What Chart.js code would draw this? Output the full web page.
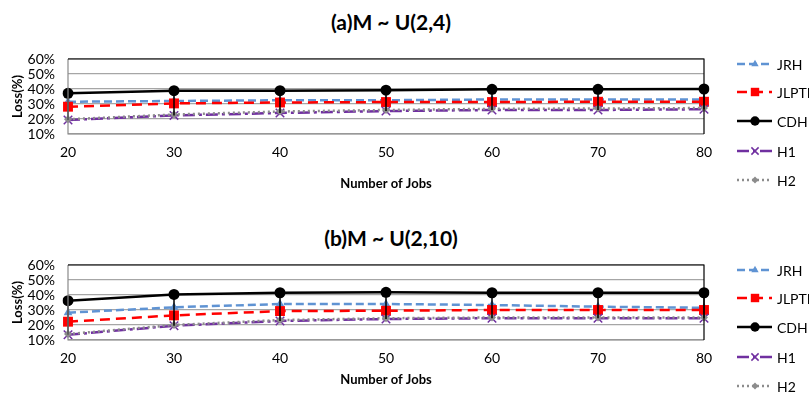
<!DOCTYPE html>
<html>
<head>
<meta charset="utf-8">
<script src="https://cdn.jsdelivr.net/npm/chart.js@4/dist/chart.umd.min.js"></script>
<style>
  body { margin: 0; background: #fff; }
  #wrap { position: relative; width: 809px; height: 394px; overflow: hidden; }
  .title { position: absolute; left: 0; width: 782px; text-align: center; font: bold 21px Lato, sans-serif; color: #000; line-height: 26px; }
  canvas { position: absolute; left: 0; }
</style>
</head>
<body>
<div id="wrap">
  <div class="title" style="top:9px">(a)M ~ U(2,4)</div>
  <canvas id="chartA" width="809" height="200" style="top:0"></canvas>
  <div class="title" style="top:225px">(b)M ~ U(2,10)</div>
  <canvas id="chartB" width="809" height="188" style="top:206px"></canvas>
</div>
<script>
const jobs = ["20", "30", "40", "50", "60", "70", "80"];
const yTicks = [10, 20, 30, 40, 50, 60];
const seriesNames = ["JRH", "JLPTH", "CDH", "H1", "H2"];

// (a) M ~ U(2,4)
const jrhA   = [31.5, 32, 32.5, 32.5, 33, 33, 33];
const jlpthA = [28.2, 30.4, 31, 31.3, 31.3, 31.5, 31.5];
const cdhA   = [37.1, 38.9, 38.9, 39.2, 39.8, 39.8, 40];
const h1A    = [19.3, 22.4, 24, 25.3, 26, 26, 26.5];
const h2A    = [19.8, 23, 25, 26, 26.8, 27, 27.3];

// (b) M ~ U(2,10)
const jrhB   = [28.2, 31.8, 34, 34, 33.3, 32.2, 31.5];
const jlpthB = [22.2, 26.4, 29.3, 29.5, 30, 30, 30];
const cdhB   = [36.2, 40.4, 41.5, 41.8, 41.5, 41.5, 41.5];
const h1B    = [13.5, 19.5, 22.7, 24, 24.5, 24.5, 24.5];
const h2B    = [14, 20, 23.3, 24.5, 25, 25, 25];

const FONT = "Lato, sans-serif";

function makeDatasets(jrh, jlpth, cdh, h1, h2) {
  return [
    { label: seriesNames[0], data: jrh, borderColor: "#5f93d3", backgroundColor: "#5f93d3",
      borderWidth: 2.5, borderDash: [8, 4], pointStyle: "triangle", pointRadius: 5, pointBorderWidth: 0, order: 5 },
    { label: seriesNames[1], data: jlpth, borderColor: "#ff0000", backgroundColor: "#ff0000",
      borderWidth: 2.5, borderDash: [10, 6], pointStyle: "rect", pointRadius: 7, pointBorderWidth: 0, order: 4 },
    { label: seriesNames[2], data: cdh, borderColor: "#000000", backgroundColor: "#000000",
      borderWidth: 2.5, pointStyle: "circle", pointRadius: 5.5, pointBorderWidth: 0, order: 3 },
    { label: seriesNames[3], data: h1, borderColor: "#7030a0", backgroundColor: "#7030a0",
      borderWidth: 2.5, borderDash: [12, 4, 3, 4], pointStyle: "crossRot", pointRadius: 6, pointBorderWidth: 1.5, order: 2 },
    { label: seriesNames[4], data: h2, borderColor: "#8c8c8c", backgroundColor: "#8c8c8c",
      borderWidth: 2.5, borderDash: [2, 3], pointStyle: "rectRot", pointRadius: 4, pointBorderWidth: 0, order: 1 }
  ];
}

// high-low lines, plot border and legend
const extras = {
  id: "extras",
  afterDatasetsDraw(chart) {
    const ctx = chart.ctx;
    const metas = chart.data.datasets.map((d, i) => chart.getDatasetMeta(i));
    ctx.save();
    ctx.strokeStyle = "#000";
    ctx.lineWidth = 1.5;
    jobs.forEach((j, k) => {
      const ys = metas.map(m => m.data[k].y);
      const x = metas[0].data[k].x;
      ctx.beginPath();
      ctx.moveTo(x, Math.min(...ys));
      ctx.lineTo(x, Math.max(...ys));
      ctx.stroke();
    });
    ctx.restore();
  },
  afterDraw(chart) {
    const ctx = chart.ctx;
    const a = chart.chartArea;
    ctx.save();
    ctx.lineWidth = 1.2;
    ctx.strokeStyle = "#8a8a8a";
    ctx.beginPath();
    ctx.moveTo(a.left, a.top); ctx.lineTo(a.left, a.bottom); ctx.lineTo(a.right, a.bottom);
    ctx.stroke();
    ctx.strokeStyle = "#000";
    ctx.beginPath();
    ctx.moveTo(a.left, a.top); ctx.lineTo(a.right, a.top); ctx.lineTo(a.right, a.bottom);
    ctx.stroke();

    const legendY = [64, 92, 121, 151, 180];
    chart.data.datasets.forEach((d, i) => {
      const y = legendY[i];
      ctx.strokeStyle = d.borderColor;
      ctx.lineWidth = d.borderWidth;
      ctx.setLineDash(d.borderDash || []);
      ctx.beginPath();
      ctx.moveTo(737, y); ctx.lineTo(772, y);
      ctx.stroke();
      ctx.setLineDash([]);
      ctx.fillStyle = d.backgroundColor;
      ctx.strokeStyle = d.borderColor;
      ctx.lineWidth = d.pointBorderWidth || 1;
      Chart.helpers.drawPoint(ctx, { pointStyle: d.pointStyle, radius: d.pointRadius * 0.85, rotation: 0, borderWidth: d.pointBorderWidth }, 755, y);
      ctx.fillStyle = "#000";
      ctx.font = "14px " + FONT;
      ctx.textBaseline = "middle";
      ctx.fillText(d.label, 777, y + 1);
    });
    ctx.restore();
  }
};

function makeChart(id, datasets, canvasH, xTitlePad) {
  return new Chart(document.getElementById(id), {
    type: "line",
    data: { labels: jobs, datasets },
    options: {
      responsive: false,
      animation: false,
      events: [],
      layout: { padding: { top: 59, right: 105, left: 0, bottom: 0 } },
      plugins: { legend: { display: false }, tooltip: { enabled: false }, title: { display: false } },
      elements: { line: { tension: 0 } },
      scales: {
        x: {
          offset: false,
          grid: { display: false, drawTicks: false },
          border: { display: false },
          ticks: { padding: 10, color: "#000", font: { family: FONT, size: 14 } },
          title: { display: true, text: "Number of Jobs", color: "#000",
                   font: { family: FONT, size: 13, weight: "bold" }, padding: { top: 0, bottom: xTitlePad } },
          afterFit(s) { s.height = canvasH - 134; }
        },
        y: {
          min: yTicks[0], max: yTicks[yTicks.length - 1],
          afterBuildTicks(s) { s.ticks = yTicks.map(v => ({ value: v })); },
          grid: { color: "#a6a6a6", lineWidth: 1.2, drawTicks: false },
          border: { display: false },
          ticks: { autoSkip: false, padding: 13, color: "#000", font: { family: FONT, size: 14 }, callback: v => v + "%" },
          title: { display: true, text: "Loss(%)", color: "#000",
                   font: { family: FONT, size: 13, weight: "bold" }, padding: { top: 10, bottom: 0 } },
          afterFit(s) { s.width = 68; }
        }
      }
    },
    plugins: [extras]
  });
}

makeChart("chartA", makeDatasets(jrhA, jlpthA, cdhA, h1A, h2A), 200, 8);
makeChart("chartB", makeDatasets(jrhB, jlpthB, cdhB, h1B, h2B), 188, 6);
</script>
</body>
</html>
